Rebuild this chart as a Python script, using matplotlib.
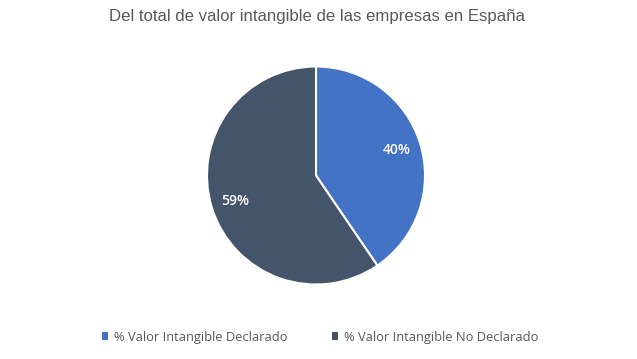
import matplotlib
matplotlib.use("Agg")
import matplotlib.pyplot as plt
from matplotlib.patches import Patch

title = "Del total de valor intangible de las empresas en España"
categories = ["% Valor Intangible Declarado", "% Valor Intangible No Declarado"]
values = [40.4, 59.4]
colors = ["#4472C4", "#44546A"]

total = sum(values)

fig = plt.figure(figsize=(6.37, 3.59), dpi=100)
ax = fig.add_axes([207/637, 74.5/359, 218/637, 218/359])

wedges, texts, autotexts = ax.pie(
    values, colors=colors, startangle=90, counterclock=False,
    autopct=lambda p: f"{p * total / 100:.0f}%", pctdistance=0.78,
    wedgeprops=dict(edgecolor="white", linewidth=1.5),
    textprops=dict(color="white", fontsize=10, fontweight="semibold", family="Open Sans"),
)
ax.set_aspect("equal")
ax.set_xlim(-1, 1)
ax.set_ylim(-1, 1)

fig.text(317/637, 1 - 17/359, title, ha="center", va="center",
         fontsize=12.1, color="#595959", family="Liberation Sans")

handles = [Patch(facecolor=c, edgecolor="none") for c in colors]
fig.legend(handles, categories, loc="center", bbox_to_anchor=(320/637, 1 - 337/359),
           ncol=2, frameon=False, handlelength=0.5, handleheight=0.5,
           handletextpad=0.45, columnspacing=3.4,
           prop=dict(family="Open Sans", size=9.3))
for t in fig.legends[0].get_texts():
    t.set_color("#595959")

fig.savefig("out.png", dpi=100)
